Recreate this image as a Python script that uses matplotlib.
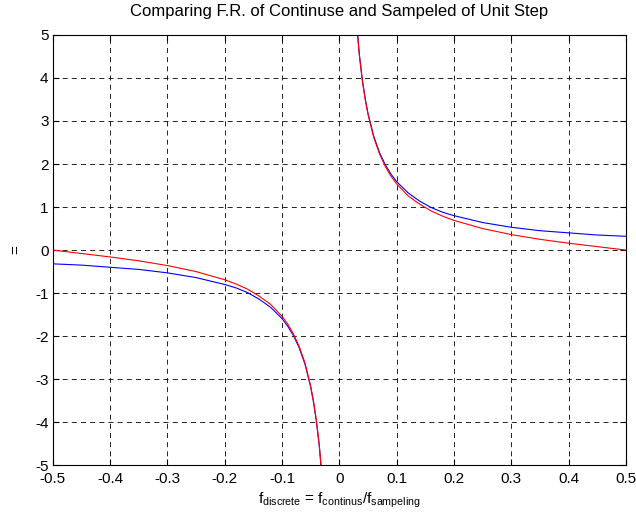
import matplotlib
matplotlib.use("Agg")
import matplotlib.pyplot as plt

plt.rcParams['font.family'] = ['Liberation Sans', 'DejaVu Sans']
plt.rcParams['mathtext.default'] = 'regular'
plt.rcParams['axes.unicode_minus'] = False

# frequency points (left and right branches)
f_left = [-0.5, -0.45, -0.4, -0.35, -0.3, -0.25, -0.2, -0.18, -0.16, -0.14,
          -0.12, -0.1, -0.09, -0.08, -0.07, -0.06, -0.05, -0.045, -0.04, -0.035, -0.03]
f_right = [0.03, 0.035, 0.04, 0.045, 0.05, 0.06, 0.07, 0.08, 0.09, 0.1,
           0.12, 0.14, 0.16, 0.18, 0.2, 0.25, 0.3, 0.35, 0.4, 0.45, 0.5]

# continuous response (blue)
cont_left = [-0.32, -0.35, -0.40, -0.45, -0.53, -0.64, -0.80, -0.88, -0.99, -1.14,
             -1.33, -1.59, -1.77, -1.99, -2.27, -2.65, -3.18, -3.54, -3.98, -4.55, -5.31]
cont_right = [5.31, 4.55, 3.98, 3.54, 3.18, 2.65, 2.27, 1.99, 1.77, 1.59,
              1.33, 1.14, 0.99, 0.88, 0.80, 0.64, 0.53, 0.45, 0.40, 0.35, 0.32]

# sampled response (red)
samp_left = [0.0, -0.08, -0.16, -0.25, -0.36, -0.50, -0.69, -0.79, -0.91, -1.07,
             -1.26, -1.54, -1.72, -1.95, -2.24, -2.62, -3.16, -3.51, -3.96, -4.52, -5.29]
samp_right = [5.29, 4.52, 3.96, 3.51, 3.16, 2.62, 2.24, 1.95, 1.72, 1.54,
              1.26, 1.07, 0.91, 0.79, 0.69, 0.50, 0.36, 0.25, 0.16, 0.08, 0.0]

xticks = [-0.5, -0.4, -0.3, -0.2, -0.1, 0, 0.1, 0.2, 0.3, 0.4, 0.5]
xticklabels = ['-0.5', '-0.4', '-0.3', '-0.2', '-0.1', '0', '0.1', '0.2', '0.3', '0.4', '0.5']
yticks = [-5, -4, -3, -2, -1, 0, 1, 2, 3, 4, 5]

fig = plt.figure(figsize=(6.36, 5.14), dpi=100)
ax = fig.add_axes([0.083, 0.095, 0.901, 0.837])

ax.plot(f_left, cont_left, color='blue', lw=0.8)
ax.plot(f_right, cont_right, color='blue', lw=0.8)
ax.plot(f_left, samp_left, color='red', lw=0.8)
ax.plot(f_right, samp_right, color='red', lw=0.8)

ax.set_xlim(-0.5, 0.5)
ax.set_ylim(-5, 5)
ax.set_xticks(xticks)
ax.set_xticklabels(xticklabels)
ax.set_yticks(yticks)
ax.tick_params(direction='in', top=True, right=True, labelsize=11, length=4, width=0.8)
ax.tick_params(axis='x', pad=5)
ax.tick_params(axis='y', pad=3)
ax.grid(True, color='black', linestyle=(0, (6, 5)), linewidth=0.6)
for s in ax.spines.values():
    s.set_linewidth(0.8)

ax.set_title('Comparing F.R. of Continuse and Sampeled of Unit Step', fontsize=12, pad=14)
ax.set_xlabel(r'$f_{discrete}$ = $f_{continus}/f_{sampeling}$', fontsize=11, labelpad=3)
ax.set_ylabel('=', fontsize=11)
ax.yaxis.set_label_coords(-0.052, 0.5)

fig.savefig('out.png', dpi=100)
